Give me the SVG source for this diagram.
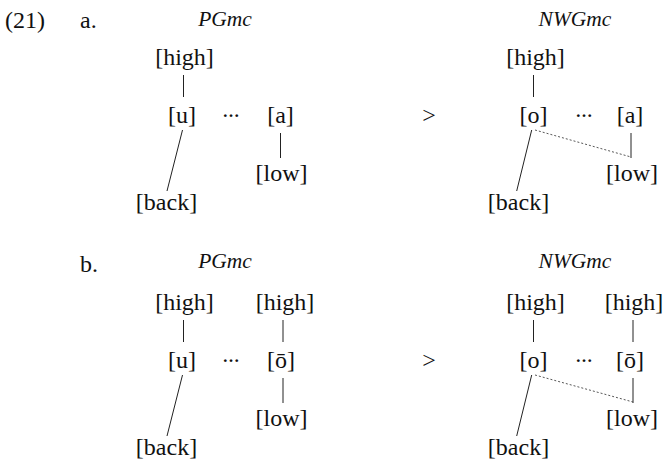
<svg xmlns="http://www.w3.org/2000/svg" width="665" height="460" viewBox="0 0 665 460">
<style>
text{font-family:"Liberation Serif","DejaVu Serif",serif;font-size:24px;fill:#111;}
.m{text-anchor:middle;}
.it{font-style:italic;font-size:21.5px;}
.dots{font-size:17px;font-weight:bold;}
.ln{stroke:#222;stroke-width:1;fill:none;}
.dt{stroke:#444;stroke-width:0.9;stroke-dasharray:2,2;fill:none;}
</style>
<g id="labels">
<text x="5" y="28">(21)</text>
<text x="80" y="28">a.</text>
<text x="80" y="272">b.</text>
<text class="m" x="429" y="123">&gt;</text>
<text class="m" x="429" y="368">&gt;</text>
</g>
<g id="a-left">
<text class="m it" x="225" y="26">PGmc</text>
<g id="a-l-high"><text class="m" x="184.5" y="65">[high]</text></g>
<g id="a-l-u"><text class="m" x="182" y="123">[u]</text></g>
<g id="a-l-dots"><text class="m dots" x="231" y="117">…</text></g>
<g id="a-l-a"><text class="m" x="280.5" y="123">[a]</text></g>
<g id="a-l-low"><text class="m" x="281.5" y="181">[low]</text></g>
<g id="a-l-back"><text class="m" x="166.5" y="210">[back]</text></g>
</g>
<g id="a-right">
<text class="m it" x="575" y="26">NWGmc</text>
<g id="a-r-high"><text class="m" x="535.5" y="65">[high]</text></g>
<g id="a-r-o"><text class="m" x="533.5" y="123">[o]</text></g>
<g id="a-r-dots"><text class="m dots" x="584" y="117">…</text></g>
<g id="a-r-a"><text class="m" x="630" y="123">[a]</text></g>
<g id="a-r-low"><text class="m" x="632" y="181">[low]</text></g>
<g id="a-r-back"><text class="m" x="518.5" y="210">[back]</text></g>
</g>
<g id="b-left">
<text class="m it" x="225" y="268">PGmc</text>
<g id="b-l-high1"><text class="m" x="184.5" y="310">[high]</text></g>
<g id="b-l-high2"><text class="m" x="285" y="310">[high]</text></g>
<g id="b-l-u"><text class="m" x="182" y="368">[u]</text></g>
<g id="b-l-dots"><text class="m dots" x="231" y="362">…</text></g>
<g id="b-l-o"><text class="m" x="281" y="368">[ō]</text></g>
<g id="b-l-low"><text class="m" x="281.5" y="426">[low]</text></g>
<g id="b-l-back"><text class="m" x="166.5" y="455">[back]</text></g>
</g>
<g id="b-right">
<text class="m it" x="575" y="268">NWGmc</text>
<g id="b-r-high1"><text class="m" x="535.5" y="310">[high]</text></g>
<g id="b-r-high2"><text class="m" x="634" y="310">[high]</text></g>
<g id="b-r-o"><text class="m" x="533.5" y="368">[o]</text></g>
<g id="b-r-dots"><text class="m dots" x="584" y="362">…</text></g>
<g id="b-r-o2"><text class="m" x="630" y="368">[ō]</text></g>
<g id="b-r-low"><text class="m" x="632" y="426">[low]</text></g>
<g id="b-r-back"><text class="m" x="518.5" y="455">[back]</text></g>
</g>
<g id="connectors">
<line class="ln" x1="183.5" y1="75" x2="183.5" y2="97"/>
<line class="ln" x1="280.5" y1="133" x2="280.5" y2="158"/>
<line class="ln" x1="182.5" y1="130" x2="167" y2="191"/>
<line class="ln" x1="533.5" y1="75" x2="533.5" y2="97"/>
<line class="ln" x1="631" y1="133" x2="631" y2="158"/>
<line class="ln" x1="531.7" y1="130" x2="516.7" y2="191"/>
<line class="dt" x1="535" y1="130" x2="631" y2="157"/>
<line class="ln" x1="183.5" y1="320" x2="183.5" y2="342"/>
<line class="ln" x1="283" y1="320" x2="283" y2="342"/>
<line class="ln" x1="283" y1="378" x2="283" y2="403"/>
<line class="ln" x1="182.5" y1="375" x2="167" y2="436"/>
<line class="ln" x1="533.5" y1="320" x2="533.5" y2="342"/>
<line class="ln" x1="633" y1="320" x2="633" y2="342"/>
<line class="ln" x1="633" y1="378" x2="633" y2="403"/>
<line class="ln" x1="531.7" y1="375" x2="516.7" y2="436"/>
<line class="dt" x1="535" y1="375" x2="633" y2="402"/>
</g>
</svg>
